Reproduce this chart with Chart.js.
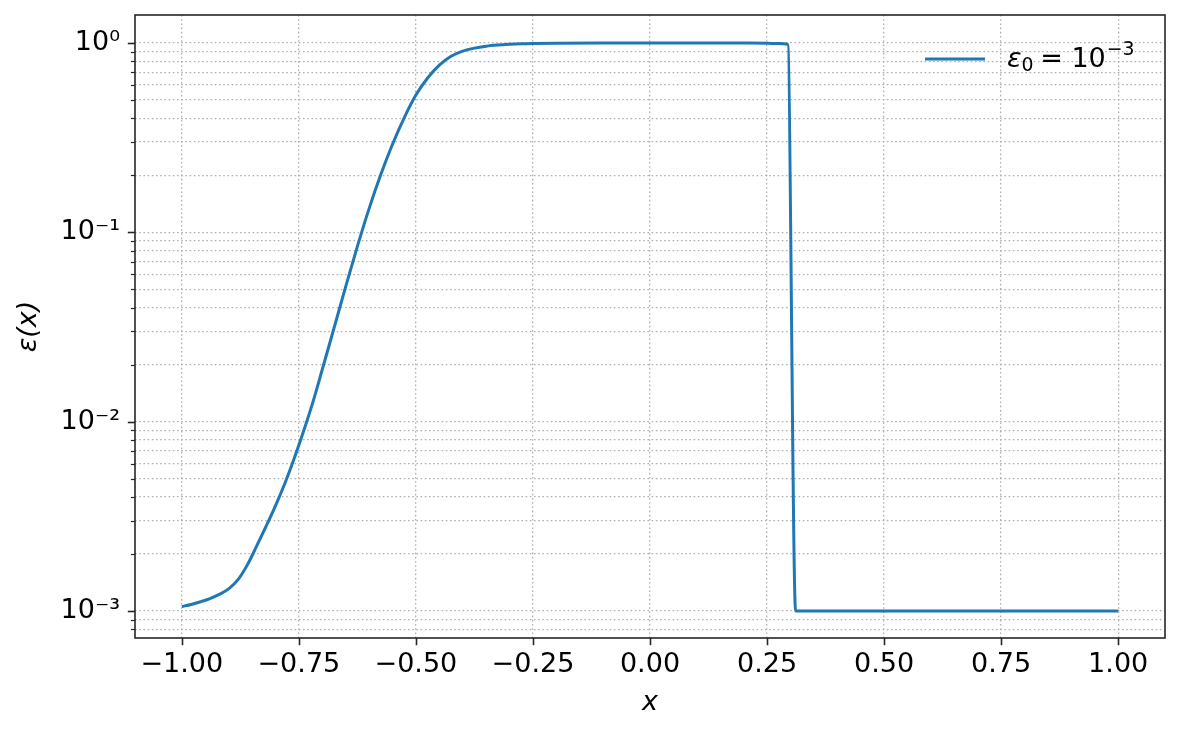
<!DOCTYPE html>
<html>
<head>
<meta charset="utf-8">
<script src="https://cdn.jsdelivr.net/npm/chart.js@4/dist/chart.umd.min.js"></script>
<style>
  body { margin: 0; background: #fff; }
  canvas { display: block; }
</style>
</head>
<body>
<canvas id="eps-chart" width="1181" height="734"></canvas>
<script>
// values
const xs = [-1.0, -0.98, -0.96, -0.94, -0.92, -0.9, -0.88, -0.86, -0.84, -0.82,
  -0.8, -0.78, -0.76, -0.74, -0.72, -0.7, -0.675, -0.65, -0.625, -0.6,
  -0.575, -0.55, -0.525, -0.5, -0.475, -0.45, -0.425, -0.4, -0.375, -0.35,
  -0.325, -0.3, -0.275, -0.25, -0.2, -0.1, 0.0, 0.1, 0.2, 0.25,
  0.275, 0.294, 0.311, 0.5, 0.75, 1.0];
const eps = [1.054e-3, 1.081e-3, 1.117e-3, 1.161e-3, 1.222e-3, 1.306e-3, 1.462e-3, 1.75e-3, 2.203e-3, 2.799e-3,
  3.589e-3, 4.71e-3, 6.383e-3, 8.892e-3, 1.268e-2, 1.884e-2, 3.112e-2, 5.164e-2, 8.433e-2, 0.1334,
  0.2018, 0.2917, 0.4027, 0.5309, 0.6531, 0.7638, 0.8511, 0.9057, 0.9397, 0.9616,
  0.975, 0.984, 0.9908, 0.9943, 0.9977, 1.0, 1.0, 1.0, 0.999, 0.997,
  0.993, 0.986, 1.0e-3, 1.0e-3, 1.0e-3, 1.0e-3];

const xTicks = [-1.0, -0.75, -0.5, -0.25, 0.0, 0.25, 0.5, 0.75, 1.0];
const xTickLabels = ['\u22121.00', '\u22120.75', '\u22120.50', '\u22120.25', '0.00', '0.25', '0.50', '0.75', '1.00'];
const yMajor = [1e-3, 1e-2, 1e-1, 1];
const yTickLabels = ['10\u207B\u00B3', '10\u207B\u00B2', '10\u207B\u00B9', '10\u2070'];
const seriesLabel = '\u03B5\u2080 = 10\u207B\u00B3';

const FONT = 'DejaVu Sans';
const FS = 27;
const Y_MIN = 7.19e-4, Y_MAX = 1.406;

// minor log ticks 2..9 x 10^k inside the range
const yMinor = [];
for (let e = -4; e <= 0; e++) {
  for (let m = 2; m <= 9; m++) {
    const v = m * Math.pow(10, e);
    if (v >= Y_MIN && v <= Y_MAX) yMinor.push(v);
  }
}
const yAll = yMinor.concat(yMajor).sort((a, b) => a - b);
const isMajorY = v => yMajor.some(m => Math.abs(m - v) / m < 1e-6);

const frame = {
  id: 'frame',
  afterDraw(chart) {
    const ctx = chart.ctx, a = chart.chartArea;
    const xs_ = chart.scales.x, ys_ = chart.scales.y;
    ctx.save();
    ctx.strokeStyle = '#262626';
    // x ticks
    ctx.lineWidth = 1.6;
    xTicks.forEach(v => {
      const p = Math.round(xs_.getPixelForValue(v)) + 0.5;
      ctx.beginPath(); ctx.moveTo(p, a.bottom); ctx.lineTo(p, a.bottom + 7.2); ctx.stroke();
    });
    // y ticks
    yAll.forEach(v => {
      const major = isMajorY(v);
      const p = Math.round(ys_.getPixelForValue(v)) + 0.5;
      ctx.lineWidth = major ? 1.6 : 1.2;
      ctx.beginPath(); ctx.moveTo(a.left, p); ctx.lineTo(a.left - (major ? 7.2 : 4.1), p); ctx.stroke();
    });
    // spines
    ctx.lineWidth = 1.6;
    ctx.strokeRect(a.left, a.top, a.right - a.left, a.bottom - a.top);

    // legend
    const ds = chart.data.datasets[0];
    const ly = 59;
    ctx.strokeStyle = ds.borderColor;
    ctx.lineWidth = ds.borderWidth;
    ctx.beginPath(); ctx.moveTo(925, ly); ctx.lineTo(985, ly); ctx.stroke();
    ctx.fillStyle = '#000';
    ctx.textBaseline = 'alphabetic';
    let x = 1007;
    const base = 67;
    ctx.font = 'italic ' + FS + 'px "' + FONT + '"';
    ctx.fillText('\u03B5', x, base); x += ctx.measureText('\u03B5').width;
    ctx.font = (FS * 0.7) + 'px "' + FONT + '"';
    ctx.fillText('0', x, base + 4); x += ctx.measureText('0').width + 2;
    ctx.font = FS + 'px "' + FONT + '"';
    ctx.fillText(' = 10', x - 4, base); x += ctx.measureText(' = 10').width - 4;
    ctx.font = (FS * 0.7) + 'px "' + FONT + '"';
    ctx.fillText('\u22123', x + 1, base - 12);
    ctx.restore();
  }
};

new Chart(document.getElementById('eps-chart'), {
  type: 'line',
  data: {
    datasets: [{
      label: seriesLabel,
      data: xs.map((x, i) => ({ x: x, y: eps[i] })),
      borderColor: '#1f77b4',
      borderWidth: 3,
      pointRadius: 0,
      fill: false,
      cubicInterpolationMode: 'monotone'
    }]
  },
  options: {
    responsive: false,
    animation: false,
    layout: { padding: { left: 0, right: 16, top: 15, bottom: 0 } },
    plugins: { legend: { display: false }, tooltip: { enabled: false } },
    scales: {
      x: {
        type: 'linear',
        min: -1.1,
        max: 1.1,
        afterBuildTicks: s => { s.ticks = xTicks.map(v => ({ value: v })); },
        afterFit: s => { s.height = 96; s.paddingLeft = 0; s.paddingRight = 0; },
        grid: { color: '#b0b0b0', lineWidth: 1.3, drawTicks: false },
        border: { display: false, dash: [1.6, 2.6] },
        ticks: {
          autoSkip: false,
          maxRotation: 0,
          padding: 11,
          color: '#000',
          font: { family: FONT, size: FS },
          callback: v => xTickLabels[xTicks.indexOf(v)]
        },
        title: {
          display: true,
          text: 'x',
          color: '#000',
          padding: { top: 0, bottom: 15 },
          font: { family: FONT, size: FS, style: 'italic' }
        }
      },
      y: {
        type: 'logarithmic',
        min: Y_MIN,
        max: Y_MAX,
        afterBuildTicks: s => { s.ticks = yAll.map(v => ({ value: v })); },
        afterFit: s => { s.width = 135; s.paddingTop = 0; s.paddingBottom = 0; },
        grid: { color: '#b0b0b0', lineWidth: 1.3, drawTicks: false },
        border: { display: false, dash: [1.6, 2.6] },
        ticks: {
          autoSkip: false,
          padding: 15,
          color: '#000',
          font: { family: FONT, size: FS },
          callback: v => isMajorY(v) ? yTickLabels[yMajor.findIndex(m => Math.abs(m - v) / m < 1e-6)] : ''
        },
        title: {
          display: true,
          text: '\u03B5(x)',
          color: '#000',
          padding: { top: 13, bottom: 0 },
          font: { family: FONT, size: FS, style: 'italic' }
        }
      }
    }
  },
  plugins: [frame]
});
</script>
</body>
</html>
